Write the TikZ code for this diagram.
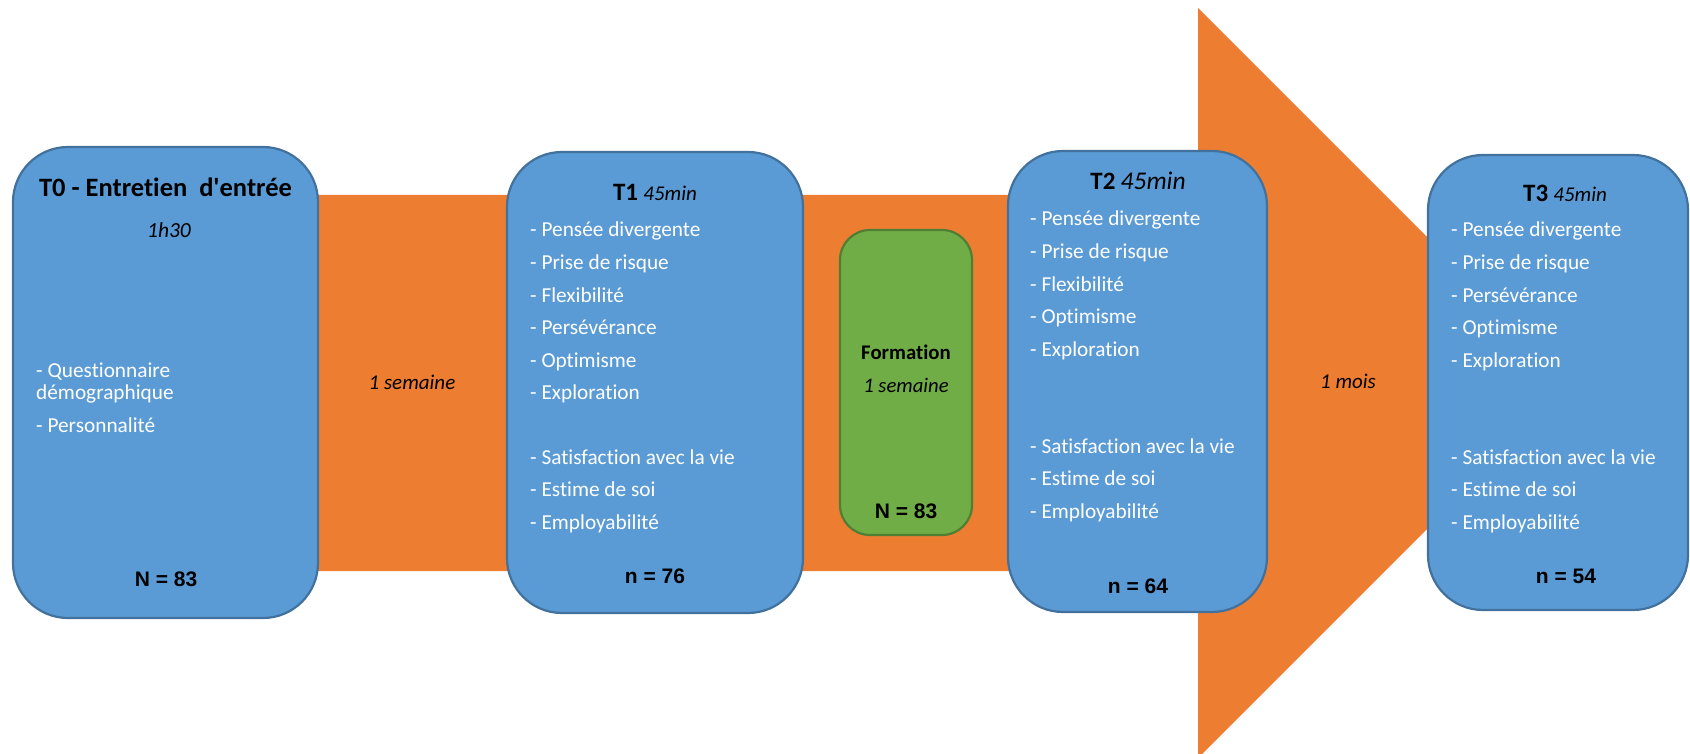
\documentclass[tikz,border=0pt]{standalone}
\usepackage{fontspec}
\setmainfont{Carlito}[Ligatures={TeXOff,NoCommon}]
\newfontfamily\arialf{Liberation Sans}
\definecolor{bluefill}{HTML}{5B9BD5}
\definecolor{blueedge}{HTML}{41719C}
\definecolor{greenfill}{HTML}{70AD47}
\definecolor{greenedge}{HTML}{507E32}
\definecolor{orangefill}{HTML}{ED7D31}
\tikzset{
  box/.style={draw=blueedge, fill=bluefill, line width=2.2pt, rounded corners=55pt, inner sep=0pt},
  gbox/.style={draw=greenedge, fill=greenfill, line width=2.2pt, rounded corners=30pt, inner sep=0pt},
  item/.style={anchor=base west, inner sep=0pt, text=white, font=\fontsize{21.3}{25}\selectfont},
  ttl/.style={anchor=base, inner sep=0pt, text=black, font=\fontsize{23}{28}\selectfont},
  cnt/.style={anchor=base, inner sep=0pt, text=black, font=\arialf\bfseries\fontsize{21}{25}\selectfont},
  dur/.style={anchor=base, inner sep=0pt, text=black, font=\itshape\fontsize{21}{25}\selectfont}
}
\begin{document}
\begin{tikzpicture}[x=1pt,y=-1pt]
\useasboundingbox (0,0) rectangle (1690,754);
% orange arrow
\fill[orangefill] (200,195) -- (1198,195) -- (1198,8) -- (1573,383) -- (1198,758) -- (1198,571) -- (200,571) -- cycle;
% boxes
\node[box, minimum width=305pt, minimum height=471pt] (t0) at (165.5,382.5) {};
\node[box, minimum width=296pt, minimum height=461pt] (t1) at (655,382.5) {};
\node[gbox, minimum width=132pt, minimum height=305pt] (form) at (906,382.5) {};
\node[box, minimum width=259pt, minimum height=461pt] (t2) at (1137.5,381.5) {};
\node[box, minimum width=260pt, minimum height=455pt] (t3) at (1558,382.5) {};
% durations on the arrow
\node[dur] (d1) at (412,389) {1 semaine};
\node[dur] (d2) at (1348,388) {1 mois};
% T0
\node[ttl, font=\bfseries\fontsize{26.5}{30}\selectfont] (t0t) at (165.5,197) {T0 - Entretien \ d'entrée};
\node[dur, font=\itshape\fontsize{21.5}{25}\selectfont] (t0d) at (169,238) {1h30};
\node[item] (t0a) at (36,377) {- Questionnaire};
\node[item] (t0b) at (36,399.5) {démographique};
\node[item] (t0c) at (36,432) {- Personnalité};
\node[cnt] (t0n) at (166,586) {N = 83};
% T1
\node[ttl] (t1t) at (655,201) {{\bfseries\fontsize{25}{28}\selectfont T1} {\itshape\fontsize{21}{25}\selectfont 45min}};
\node[item] (t1a) at (530,237) {- Pensée divergente};
\node[item] (t1b) at (530,269.5) {- Prise de risque};
\node[item] (t1c) at (530,302) {- Flexibilité};
\node[item] (t1d) at (530,334.5) {- Persévérance};
\node[item] (t1e) at (530,367) {- Optimisme};
\node[item] (t1f) at (530,399.5) {- Exploration};
\node[item] (t1g) at (530,464) {- Satisfaction avec la vie};
\node[item] (t1h) at (530,496.5) {- Estime de soi};
\node[item] (t1i) at (530,529) {- Employabilité};
\node[cnt] (t1n) at (655,583) {n = 76};
% Formation
\node[ttl, font=\bfseries\fontsize{20.8}{25}\selectfont] (ft) at (906,359) {Formation};
\node[dur, font=\itshape\fontsize{20.7}{25}\selectfont] (fd) at (906,392) {1 semaine};
\node[cnt] (fn) at (906,518) {N = 83};
% T2
\node[ttl] (t2t) at (1138,190) {{\bfseries\fontsize{25}{28}\selectfont T2} {\itshape\fontsize{25.5}{28}\selectfont 45min}};
\node[item] (t2a) at (1030,226) {- Pensée divergente};
\node[item] (t2b) at (1030,258.5) {- Prise de risque};
\node[item] (t2c) at (1030,291) {- Flexibilité};
\node[item] (t2d) at (1030,323.5) {- Optimisme};
\node[item] (t2e) at (1030,356) {- Exploration};
\node[item] (t2f) at (1030,453) {- Satisfaction avec la vie};
\node[item] (t2g) at (1030,485.5) {- Estime de soi};
\node[item] (t2h) at (1030,518) {- Employabilité};
\node[cnt] (t2n) at (1138,593) {n = 64};
% T3
\node[ttl] (t3t) at (1565,201.5) {{\bfseries\fontsize{25}{28}\selectfont T3} {\itshape\fontsize{21}{25}\selectfont 45min}};
\node[item] (t3a) at (1451,237) {- Pensée divergente};
\node[item] (t3b) at (1451,269.5) {- Prise de risque};
\node[item] (t3c) at (1451,302) {- Persévérance};
\node[item] (t3d) at (1451,334.5) {- Optimisme};
\node[item] (t3e) at (1451,367) {- Exploration};
\node[item] (t3f) at (1451,464) {- Satisfaction avec la vie};
\node[item] (t3g) at (1451,496.5) {- Estime de soi};
\node[item] (t3h) at (1451,529) {- Employabilité};
\node[cnt] (t3n) at (1566,583) {n = 54};
\end{tikzpicture}
\end{document}
